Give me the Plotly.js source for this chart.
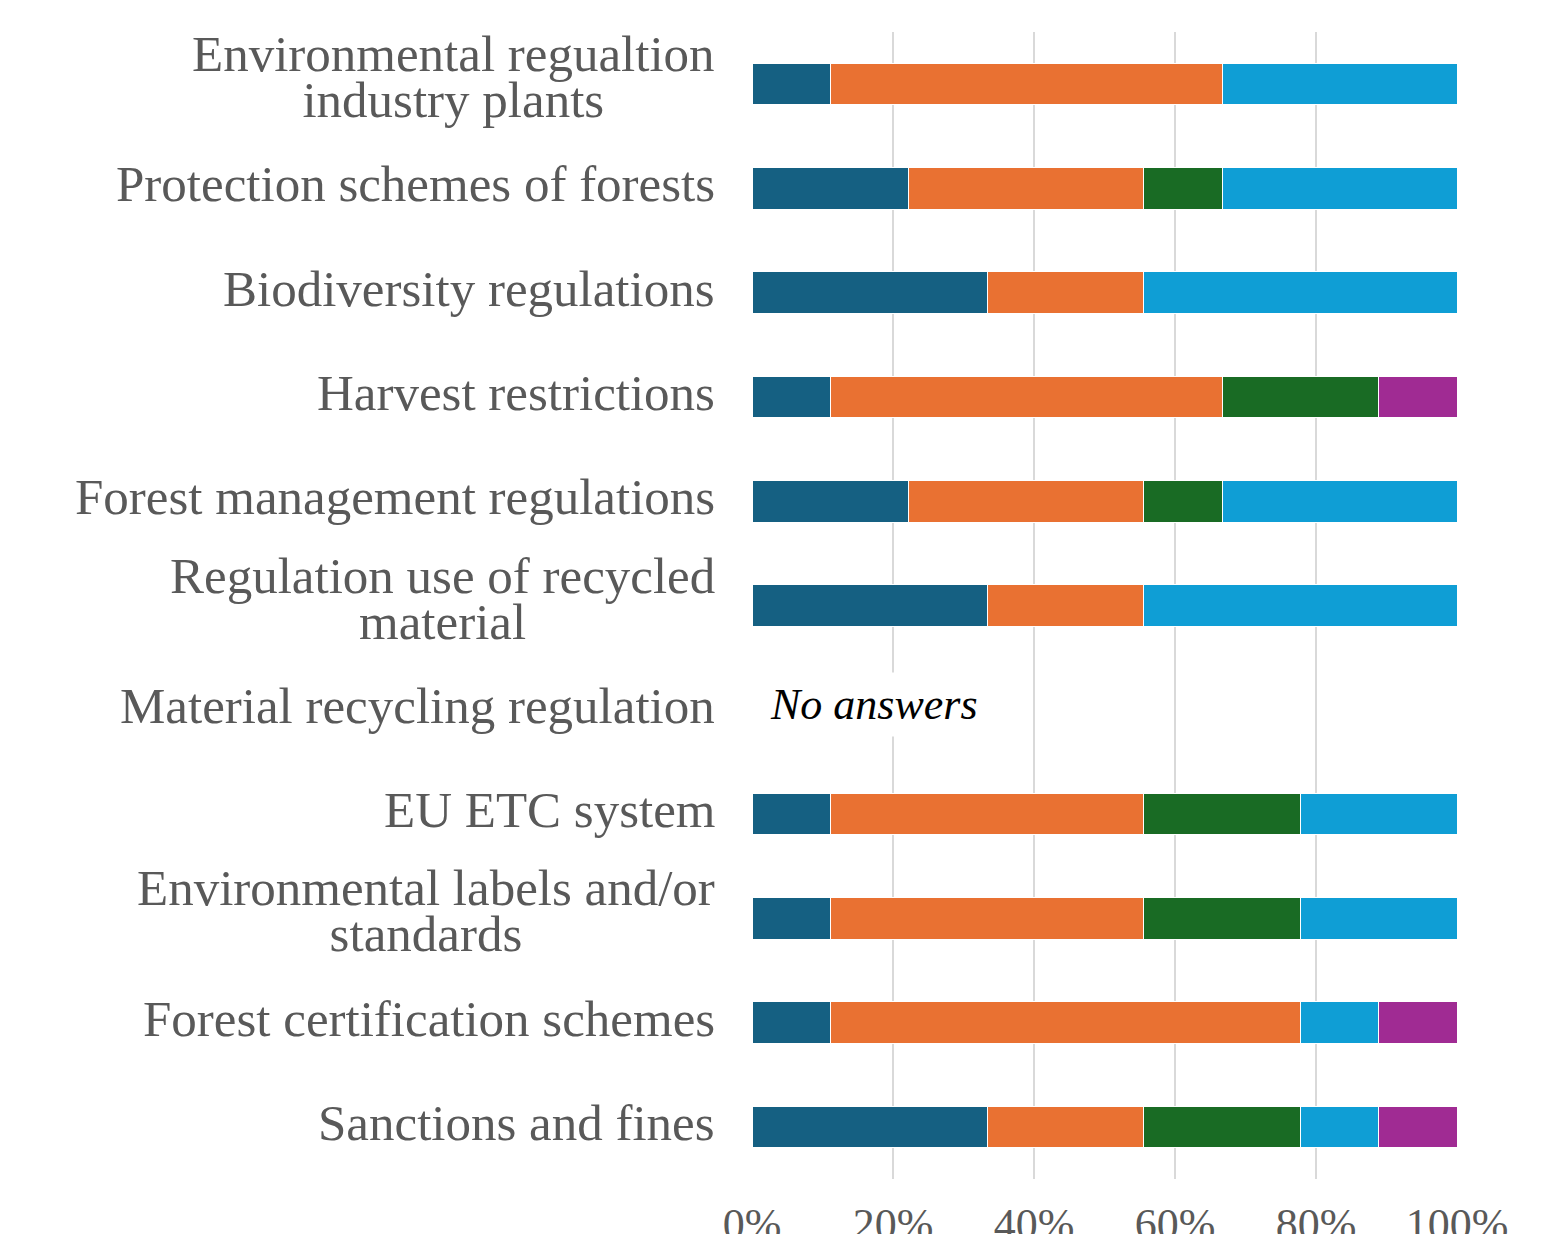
<!DOCTYPE html>
<html><head><meta charset="utf-8">
<script src="https://cdn.plot.ly/plotly-3.0.1.min.js"></script>
<style>html,body{margin:0;padding:0;background:#fff;}#chart{width:1548px;height:1234px;}</style>
</head><body><div id="chart"></div>
<script>
// Category labels (line breaks as in the reference)
const categories = [
  "Environmental regualtion<br>industry plants",
  "Protection schemes of forests",
  "Biodiversity regulations",
  "Harvest restrictions",
  "Forest management regulations",
  "Regulation use of recycled<br>material",
  "Material recycling regulation",
  "EU ETC system",
  "Environmental labels and/or<br>standards",
  "Forest certification schemes",
  "Sanctions and fines"
];
// Answer counts per category (9 respondents), shown as 100% stacked bars
const series1 = [1, 2, 3, 1, 2, 3, null, 1, 1, 1, 3];
const series2 = [5, 3, 2, 5, 3, 2, null, 4, 4, 6, 2];
const series3 = [0, 1, 0, 2, 1, 0, null, 2, 2, 0, 2];
const series4 = [3, 3, 4, 0, 3, 4, null, 2, 2, 1, 1];
const series5 = [0, 0, 0, 1, 0, 0, null, 0, 0, 1, 1];
const seriesNames = ["Series 1", "Series 2", "Series 3", "Series 4", "Series 5"];
const noAnswerCategory = "Material recycling regulation";
const noAnswerText = "No answers";
const tickValues = [0, 20, 40, 60, 80, 100];
const tickLabels = ["0%", "20%", "40%", "60%", "80%", "100%"];

const colors = ["#156082", "#E97132", "#196B24", "#0F9ED5", "#A02B93"];
const labelFont = "Liberation Serif";
const labelSize = 51;
const labelColor = "#595959";
const lineSpacing = 46;

const yCats = categories.map(c => c.replace("<br>", " "));
const allSeries = [series1, series2, series3, series4, series5];

const traces = allSeries.map((vals, i) => ({
  type: "bar",
  orientation: "h",
  name: seriesNames[i],
  y: yCats,
  x: vals,
  marker: { color: colors[i], line: { color: "#ffffff", width: 1 } },
  hoverinfo: "skip"
}));

const annotations = categories.map((c, i) => ({
  xref: "paper", x: 0, yref: "y", y: yCats[i],
  xanchor: "right", yanchor: "middle", align: "center",
  xshift: -35, yshift: c.indexOf("<br>") >= 0 ? -3 : 4,
  text: c, showarrow: false,
  font: { family: labelFont, size: labelSize, color: labelColor }
}));
annotations.push({
  xref: "x", x: 0, yref: "y", y: noAnswerCategory,
  xanchor: "left", yanchor: "middle", xshift: -11, yshift: 5,
  text: "\u00A0\u00A0<i>" + noAnswerText + "</i>\u00A0\u00A0", showarrow: false,
  bgcolor: "#ffffff", borderpad: 7,
  font: { family: labelFont, size: 44, color: "#000000" }
});

const layout = {
  width: 1548, height: 1234,
  margin: { l: 752, r: 91, t: 32, b: 55, pad: 0 },
  paper_bgcolor: "#ffffff", plot_bgcolor: "#ffffff",
  barmode: "stack", barnorm: "percent", bargap: 0.6,
  showlegend: false,
  xaxis: {
    range: [0, 100], autorange: false, tickvals: tickValues, ticktext: tickLabels,
    showgrid: true, gridcolor: "#d9d9d9", gridwidth: 2,
    zeroline: false, showline: false, ticks: "",
    ticklabelstandoff: 15,
    tickfont: { family: labelFont, size: 44, color: labelColor },
    fixedrange: true
  },
  yaxis: {
    type: "category", categoryorder: "array", categoryarray: yCats,
    range: [categories.length - 0.5, -0.5], autorange: false,
    showticklabels: false, showgrid: false,
    zeroline: false, showline: false, ticks: "", fixedrange: true
  },
  annotations: annotations
};

Plotly.newPlot("chart", traces, layout, { staticPlot: true, displayModeBar: false }).then(gd => {
  // tighter line spacing for the two-line category labels, as in the reference
  gd.querySelectorAll(".annotation-text").forEach(t => {
    t.querySelectorAll("tspan.line").forEach((ts, k) => {
      if (k > 0) ts.setAttribute("dy", (lineSpacing / labelSize).toFixed(4) + "em");
    });
  });
});
</script>
</body></html>
